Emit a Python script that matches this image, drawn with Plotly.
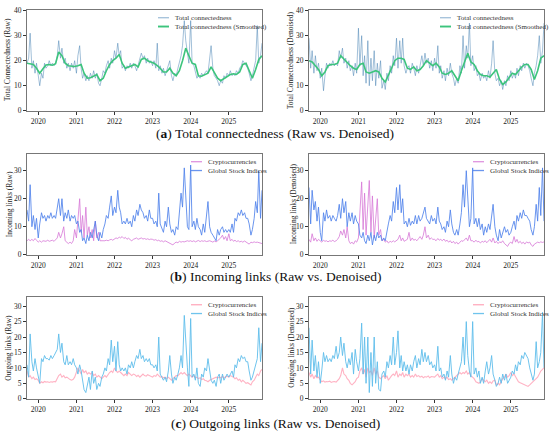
import pandas as pd
import plotly.graph_objects as go
from plotly.subplots import make_subplots

W, H = 550, 440

# ── dates ───────────────────────────────────────────────────────────────────
# raw series: semi-monthly (1st / 15th), Sep 2019 – Nov 2025
DATES = pd.date_range("2019-09-15", "2025-11-30", freq="SMS")
# smoothed series: monthly, mid-month
DATES_M = pd.date_range("2019-09-01", periods=75, freq="MS") + pd.Timedelta(days=14)

# ── (a) total connectedness ─────────────────────────────────────────────────
TC_RAW = (
    [19, 21, 31, 17, 20, 15, 19]
    + [14, 10, 15, 13, 19, 17, 18, 20, 18, 19, 18, 19, 22, 28, 21, 25, 19, 21, 17, 19, 16, 19, 17, 20]
    + [15, 22, 26, 17, 13, 15, 12, 14, 12, 15, 13, 16, 13, 15, 11, 10, 13, 16, 15, 18, 20, 17, 21, 19]
    + [24, 21, 27, 22, 24, 17, 18, 16, 18, 17, 19, 17, 19, 18, 16, 18, 20, 23, 21, 22, 19, 21, 19, 20]
    + [18, 20, 17, 27, 16, 18, 15, 17, 14, 16, 18, 20, 14, 12, 15, 14, 17, 19, 22, 26, 36, 28, 22, 19]
    + [36, 19, 18, 16, 13, 14, 13, 15, 14, 15, 16, 15, 20, 26, 17, 14, 13, 12, 10, 12, 11, 14, 13, 15]
    + [14, 16, 14, 15, 14, 16, 15, 17, 18, 20, 19, 18, 17, 15, 12, 14, 17, 20, 34, 19, 22, 27]
)
TC_SMOOTH = (
    [19, 18.8, 18.5, 17]
    + [15, 16.8, 18.3, 18.5, 18.2, 18.8, 23.5, 22, 19, 18, 17.8, 17.7]
    + [18, 18.5, 15, 13, 13.2, 14, 14.5, 12, 13, 16, 18.5, 20]
    + [21, 22.5, 19, 17, 17.5, 18, 18.5, 17.5, 20.5, 21, 20, 19.5]
    + [19, 18, 17, 15.5, 15.5, 17, 15, 14, 16, 20, 25, 22]
    + [19, 18.5, 14, 13.8, 14.5, 15, 17.5, 15, 13, 12, 12.8, 13.5]
    + [14.5, 14.8, 14.5, 15.5, 18.5, 19, 16, 13, 16.5, 20.5, 22]
)
TC_DN_RAW = (
    [29, 17, 24, 15, 22, 16, 19]
    + [13, 17, 8, 14, 19, 17, 19, 18, 20, 18, 19, 18, 24, 21, 25, 19, 21, 17, 20, 16, 18, 14, 19, 15]
    + [33, 18, 30, 14, 22, 11, 28, 10, 21, 12, 24, 10, 19, 13, 20, 9, 12, 8.5, 15, 12, 18, 15, 22, 18]
    + [29, 17, 28, 19, 29, 18, 15, 17, 18, 15, 19, 17, 14, 18, 15, 18, 22, 18, 23, 19, 21, 17, 20, 16]
    + [21, 17, 26, 15, 18, 13, 16, 12, 17, 14, 19, 15, 13, 10, 13, 11, 18, 15, 30, 17, 26, 21, 35, 18]
    + [22, 16, 18, 14, 15, 12, 15, 13, 14, 12, 16, 13, 19, 28, 15, 12, 13, 10, 12, 8.5, 12, 10, 14, 12]
    + [16, 13, 15, 13, 17, 14, 18, 16, 19, 17, 19, 18, 16, 13, 10, 15, 18, 22, 30, 19, 24, 35]
)
TC_DN_SMOOTH = (
    [20, 19.5, 18, 16.5]
    + [14, 15.5, 18, 18.5, 18.5, 19, 22, 20.5, 19, 18, 17, 16.5]
    + [18.5, 19, 15.5, 15, 15.5, 16, 15.5, 13, 11.5, 14, 17, 20]
    + [21, 21, 20.5, 17, 16.5, 17.5, 16, 16.5, 18, 20, 19, 18]
    + [19, 17.5, 15, 14.5, 15, 16, 14, 12, 16, 19.5, 23, 19.5]
    + [18.5, 16, 14.5, 14, 14, 13.5, 15, 16.5, 12.5, 10.5, 11.5, 13]
    + [15, 14.5, 16, 17.5, 18.5, 18.5, 16.5, 12.5, 16, 21, 22]
)

# ── (b) incoming links ──────────────────────────────────────────────────────
IN_RAW_CRYPTO = (
    [5, 5.5, 5, 5.5, 5, 5.8, 5.2]
    + [4.5, 5, 4.5, 5, 5, 4.8, 5.2, 4.8, 5, 5.2, 4.8, 5.5, 6, 8, 6, 7.5, 10, 5, 4.5, 4, 4.5, 4, 5, 9]
    + [6, 13, 20, 8, 14, 6, 17, 7, 10, 6, 9, 5, 12, 6, 8, 5, 5, 4.8, 5, 5.2, 5, 5.3, 5.5, 5.2]
    + [5.5, 6, 5.8, 6.3, 6, 6.5, 5.8, 6.2, 5.5, 6, 5.3, 5, 5.5, 5.8, 6, 5.5, 5.8, 6, 5.6, 5.8, 5.5, 5.7, 5.4, 5.6]
    + [5.5, 5.2, 5.4, 5, 5.2, 4.8, 5, 4.6, 5, 4.7, 4.5, 4.2, 4, 3.5, 4.2, 4.5, 4.3, 4.8, 4.5, 4.7, 4.6, 4.9, 5, 4.8]
    + [5, 4.7, 5, 4.6, 4.8, 5.1, 4.7, 5, 4.8, 5, 4.7, 4.9, 5, 4.8, 4.5, 4.9, 4.6, 5, 5.5, 6, 7, 5.5, 6.5, 5]
    + [7.5, 5, 5.5, 4.8, 5.2, 4.7, 5, 4.6, 4.8, 4.5, 4.9, 4.6, 4.2, 3.8, 4.5, 4.3, 4.6, 4.4, 4.5, 4.3, 4.2, 4]
)
IN_RAW_GSI = (
    [16, 12, 25, 10, 14, 9, 13]
    + [6, 11, 15, 13, 14, 12, 14, 13, 15, 13, 14, 13, 17, 20, 14, 20, 12, 15, 13, 16, 12, 14, 13, 14]
    + [11, 12, 8, 9, 5, 6, 4, 7, 5, 8, 6, 9, 12, 7, 5, 8, 6, 9, 11, 14, 13, 17, 21, 14]
    + [17, 15, 23, 17, 15, 11, 12, 11, 13, 11, 12, 10, 14, 12, 16, 14, 18, 16, 15, 13, 14, 12, 16, 13]
    + [13, 11, 12, 10, 22, 11, 9, 8, 12, 10, 17, 11, 8, 9, 7, 10, 9, 14, 22, 17, 31, 21, 10, 9]
    + [32, 10, 12, 9, 13, 10, 9, 7, 11, 8, 13, 19, 10, 8, 7, 6, 5, 9, 7, 9, 10, 8, 9, 8]
    + [9, 8, 11, 8, 13, 12, 15, 14, 16, 14, 15, 13, 13, 11, 7, 9, 13, 19, 15, 30, 13, 23]
)
IN_DN_CRYPTO = (
    [5.5, 4.5, 7.5, 5, 6, 4.8, 5.5]
    + [5, 4.5, 5.2, 4.8, 5, 4.6, 5, 4.8, 5.2, 4.7, 5, 5.5, 6.5, 8.5, 7, 9, 6, 10, 5, 4, 4.5, 3.8, 5, 4.5]
    + [6, 14, 26, 9, 22, 7, 16, 26.5, 8, 21, 6, 12, 20, 7, 9, 5, 5.5, 4.5, 5, 4.2, 4.8, 4.5, 5, 4.6]
    + [5, 5.5, 7, 5, 6, 4.8, 5.2, 5.5, 8, 5, 6, 5.2, 5.5, 5, 5.8, 6.5, 5.5, 7, 10, 6, 7, 5.5, 6, 5.5]
    + [5.5, 5, 5.8, 5.2, 5.5, 5, 5.6, 4.8, 5.2, 4.5, 5, 4.2, 4.8, 4, 4.5, 3.8, 4.5, 5, 4.8, 5.5, 6, 5, 7, 5]
    + [5, 4.5, 5.2, 4.6, 4.8, 4.2, 4.8, 4.5, 5, 4.3, 4.8, 5.5, 4.5, 6, 4.2, 4.8, 4, 4.6, 4.3, 5, 4, 3.5, 3, 4]
    + [4.5, 4, 6.5, 4.5, 5.5, 4.2, 4.8, 4, 4.5, 3.8, 4.6, 4.2, 4.5, 3.5, 3, 3.8, 4.2, 4.5, 4.3, 4.6, 4.4, 4.6]
)
IN_DN_GSI = (
    [24, 11, 23, 16, 19, 12, 17]
    + [8, 5, 15, 12, 16, 13, 14, 12, 14, 13, 12, 14, 18, 13, 20, 15, 19, 10, 15, 12, 15, 11, 14, 12]
    + [11, 7, 6, 8, 5, 4, 7, 5, 8, 3.5, 7, 5, 8, 6, 7, 5, 6, 5, 9, 11, 14, 12, 19, 15]
    + [24, 16, 25, 15, 20, 11, 12, 10, 13, 10.5, 12, 11, 14, 11, 14, 12, 13, 15, 17, 13, 12, 11, 14, 12]
    + [13, 11, 17, 12, 11, 9, 10, 8, 12, 10, 16, 11, 8, 7, 9, 7, 11, 15, 25, 17, 30, 20, 10, 13]
    + [31, 11, 13, 10, 13, 9, 11, 7, 10, 8, 11, 9, 13, 18, 10, 7, 5, 9, 6, 8, 10, 8, 9, 7]
    + [8, 10, 12, 9, 14, 12, 15, 13, 16, 14, 14, 13, 12, 9, 7, 10, 18, 12, 24, 14, 31, 12]
)

# ── (c) outgoing links ──────────────────────────────────────────────────────
OUT_RAW_CRYPTO = (
    [9, 7, 7.5, 6.5, 7, 6.2, 6.5]
    + [6, 5, 5.5, 5.2, 5.6, 5.4, 5.5, 5.3, 5.5, 5.4, 5.6, 5.5, 6.5, 7.5, 8, 7, 7.5, 6.8, 7, 6.5, 6.2, 6, 6.3, 7]
    + [9, 10, 9, 8, 9.5, 8.5, 9, 8, 8.5, 8, 8.5, 7.5, 8, 7, 7.5, 7, 6.5, 7, 7.5, 7, 8, 8.5, 9, 8.5]
    + [10, 9, 8.5, 9, 8.5, 8, 7.5, 8, 7.5, 8.5, 8, 7.5, 8, 7.8, 7.2, 7.6, 7, 7.5, 8, 7.5, 7.3, 7.8, 7.5, 7.2]
    + [7, 7.5, 7.3, 8, 7.5, 7, 7.2, 6.8, 7, 6.5, 7, 6.5, 6, 6.5, 7, 7.5, 7.5, 8, 8.5, 8, 8.5, 8, 7.5, 8]
    + [7.5, 7, 7.5, 6.8, 7, 6.5, 6.8, 6.2, 6.5, 6, 5.8, 5.5, 6, 6.2, 6.5, 6.8, 7, 6.7, 7, 6.8, 7.2, 6.8, 7, 7.3]
    + [7, 7.5, 7.2, 7, 6.5, 6.8, 6, 6.3, 5.5, 6, 5.5, 5, 5.2, 4.8, 4.5, 5.5, 6, 7, 8, 7.5, 9, 9.5]
)
OUT_RAW_GSI = (
    [11, 7, 21, 12, 9, 13, 10]
    + [7, 5, 13, 12, 14, 13, 13, 12.5, 14, 13, 14, 15, 16, 21, 15, 18, 12, 11, 14, 11, 12, 11, 13, 11]
    + [10, 8, 11, 9, 5, 3, 2, 4, 7, 3, 9, 5, 7, 3, 5, 4, 7, 8, 10, 9, 13, 11, 19, 12]
    + [17, 9, 18.5, 11, 9, 10, 9, 10, 8, 11, 10, 12, 10, 12, 14, 13, 16, 13, 14, 12, 13, 12, 13, 11]
    + [11, 10, 11, 9, 20, 8, 7, 6, 7, 5.5, 9, 14, 8, 5, 7, 6, 8, 10, 14, 10, 27, 18, 10, 4]
    + [26, 7, 8, 6, 10, 5, 4, 8, 7, 10, 9, 13, 9, 6, 5, 6, 4, 7, 8, 5, 8, 6, 7, 8]
    + [7, 8, 9, 7, 11, 10, 13, 12, 14, 13, 13.5, 12, 12, 9, 6, 7, 9, 11, 13, 23, 12, 18]
)
OUT_DN_CRYPTO = (
    [8.5, 7, 8, 6.5, 7.5, 6.8, 7]
    + [6, 5.5, 5.8, 5.4, 5.6, 5.5, 5.7, 5.3, 5.5, 5.6, 5.4, 6, 6.5, 7.5, 10, 8, 7.5, 6.5, 6, 5, 4.5, 5, 5.5, 6.5]
    + [7, 9, 10, 8, 9.5, 7, 10, 8.5, 9, 7.5, 10, 8, 9, 7, 6.5, 7, 7.5, 6.5, 7.5, 6, 7, 7.5, 8, 7.5]
    + [9, 7, 8, 7.5, 8.5, 7, 8, 7.5, 8, 7, 7.5, 7, 8, 7.2, 7.5, 7, 7.3, 6.8, 7.2, 7, 7.4, 6.8, 7.2, 7]
    + [7, 7.5, 8, 7, 7.5, 6.5, 7, 6.5, 7, 6.2, 6.5, 6, 6.5, 7, 7.5, 8, 8.5, 8, 8.5, 8.2, 9, 8, 8.5, 7.5]
    + [7, 6.5, 5.5, 5.2, 5, 5.5, 6.5, 6, 5.5, 6, 5, 5.5, 5, 5.8, 6, 4.5, 5, 4.5, 5.5, 6.5, 7, 8, 7, 7.5]
    + [8.5, 7.5, 8, 7, 6, 5.5, 5.2, 5, 4.8, 4.5, 4.2, 4, 4.5, 5, 5.5, 6, 6.5, 7, 8, 9, 9.5, 10]
)
OUT_DN_GSI = (
    [23, 8, 19, 9, 14, 7, 12]
    + [5, 9, 15, 12, 14, 12, 13, 12, 14, 13, 17, 13, 15, 20, 14, 18, 12, 10, 13, 11, 15, 8, 16, 12]
    + [9, 13, 24.5, 8, 20, 5, 20, 2, 15, 4, 20, 5, 12, 3, 2.5, 8, 9, 7, 12, 10, 14, 11, 20, 11]
    + [15, 22, 10, 14, 9, 12, 9, 11, 8, 11, 9, 12, 14, 10, 13, 11, 16, 12, 15, 12, 14, 11, 12, 10]
    + [11, 9, 17, 9, 10, 7, 8, 6, 9, 7, 14, 8, 5, 7, 6, 8, 10, 12, 20, 11, 25, 14, 9, 7]
    + [25, 8, 10, 7, 9, 5, 7, 5, 9, 12, 8, 10, 14, 8, 6, 4, 5, 7, 5, 8, 6, 8, 5, 6]
    + [7, 9, 8, 11, 9, 12, 11, 14, 13, 15, 14, 13, 10, 8, 6, 8, 18.5, 10, 12, 15, 28, 10]
)

# ── styling ─────────────────────────────────────────────────────────────────
SERIF = "Liberation Serif, Times New Roman, serif"
C_TC_RAW = "rgba(70,130,180,0.5)"
C_TC_SMOOTH = "#3cc47c"
C_IN_CRYPTO = "rgba(215,120,215,0.8)"
C_IN_GSI = "rgba(80,130,235,0.85)"
C_OUT_CRYPTO = "rgba(255,170,188,0.9)"
C_OUT_GSI = "rgba(95,190,235,0.9)"

# panel boxes in pixels (left, right) / (top, bottom)
X_PX = {1: (27, 262), 2: (309, 544)}
Y_PX = {1: (6, 109), 2: (153, 256), 3: (299, 403)}
X_DOM = {c: [a / W, b / W] for c, (a, b) in X_PX.items()}
Y_DOM = {r: [1 - b / H, 1 - a / H] for r, (a, b) in Y_PX.items()}
Y_RANGE = {1: [0, 40.3], 2: [0, 36], 3: [0, 33]}
Y_DTICK = {1: 10, 2: 10, 3: 5}
LEG_TEXT_OFFSET = {1: 89, 2: 56, 3: 56}   # legend text start, px left of panel edge

fig = make_subplots(rows=3, cols=2)

panels = [
    (1, 1, [(DATES, TC_RAW, "Total connectedness", C_TC_RAW, 1),
            (DATES_M, TC_SMOOTH, "Total connectedness (Smoothed)", C_TC_SMOOTH, 1.6)]),
    (1, 2, [(DATES, TC_DN_RAW, "Total connectedness", C_TC_RAW, 1),
            (DATES_M, TC_DN_SMOOTH, "Total connectedness (Smoothed)", C_TC_SMOOTH, 1.6)]),
    (2, 1, [(DATES, IN_RAW_CRYPTO, "Cryptocurrencies", C_IN_CRYPTO, 1),
            (DATES, IN_RAW_GSI, "Global Stock Indices", C_IN_GSI, 1)]),
    (2, 2, [(DATES, IN_DN_CRYPTO, "Cryptocurrencies", C_IN_CRYPTO, 1),
            (DATES, IN_DN_GSI, "Global Stock Indices", C_IN_GSI, 1)]),
    (3, 1, [(DATES, OUT_RAW_CRYPTO, "Cryptocurrencies", C_OUT_CRYPTO, 1.1),
            (DATES, OUT_RAW_GSI, "Global Stock Indices", C_OUT_GSI, 1)]),
    (3, 2, [(DATES, OUT_DN_CRYPTO, "Cryptocurrencies", C_OUT_CRYPTO, 1.1),
            (DATES, OUT_DN_GSI, "Global Stock Indices", C_OUT_GSI, 1)]),
]

annotations, shapes = [], []
for r, c, series in panels:
    for x, y, name, color, width in series:
        fig.add_trace(go.Scatter(x=x, y=y, mode="lines", name=name,
                                 line=dict(color=color, width=width),
                                 showlegend=False), row=r, col=c)
    fig.update_xaxes(domain=X_DOM[c], range=[DATES[0], DATES[-1]],
                     tick0="2020-01-01", dtick="M12", tickformat="%Y",
                     row=r, col=c)
    fig.update_yaxes(domain=Y_DOM[r], range=Y_RANGE[r], dtick=Y_DTICK[r],
                     row=r, col=c)

    # matplotlib-style compact legend (upper right of each panel)
    tx = X_PX[c][1] - LEG_TEXT_OFFSET[r]
    for i, (_, _, name, color, width) in enumerate(series):
        ty = Y_PX[r][0] + 8 + 9 * i
        shapes.append(dict(type="line", xref="paper", yref="paper",
                           x0=(tx - 15) / W, x1=(tx - 4) / W,
                           y0=1 - ty / H, y1=1 - ty / H,
                           line=dict(color=color, width=width + 0.3)))
        annotations.append(dict(x=tx / W, y=1 - ty / H, xref="paper", yref="paper",
                                text=name, showarrow=False,
                                xanchor="left", yanchor="middle",
                                font=dict(family=SERIF, size=7, color="#333")))

axis_style = dict(showgrid=False, zeroline=False, showline=True, mirror=True,
                  linecolor="#777", linewidth=1.2, ticks="outside", ticklen=3,
                  tickwidth=0.8, tickcolor="#333",
                  tickfont=dict(family=SERIF, size=7.5, color="#222"))
fig.update_xaxes(**axis_style)
fig.update_yaxes(**axis_style)

# y-axis titles
ytitles = [
    (7, 1, "Total Connectedness (Raw)"),
    (290, 1, "Total Connectedness (Denoised)"),
    (9, 2, "Incoming links (Raw)"),
    (293, 2, "Incoming links (Denoised)"),
    (9, 3, "Outgoing links (Raw)"),
    (292, 3, "Outgoing links (Denoised)"),
]
for px, r, text in ytitles:
    annotations.append(dict(x=px / W, y=sum(Y_DOM[r]) / 2, xref="paper", yref="paper",
                            text=text, textangle=-90, showarrow=False,
                            xanchor="center", yanchor="middle",
                            font=dict(family=SERIF, size=7.5, color="#222")))

# panel captions
captions = [
    (132, "(<b>a</b>) Total connectedness (Raw vs. Denoised)"),
    (278, "(<b>b</b>) Incoming links (Raw vs. Denoised)"),
    (428, "(<b>c</b>) Outgoing links (Raw vs. Denoised)"),
]
for py, text in captions:
    annotations.append(dict(x=0.5, y=1 - py / H, xref="paper", yref="paper",
                            text=text, showarrow=False,
                            xanchor="center", yanchor="middle",
                            font=dict(family=SERIF, size=13.5, color="#111")))

fig.update_layout(
    width=W, height=H,
    margin=dict(l=0, r=0, t=0, b=0),
    paper_bgcolor="white", plot_bgcolor="white",
    annotations=annotations, shapes=shapes,
    showlegend=False,
)

# drop the default page margin so the figure sits at the window's top-left
fig.write_html("out.html", config={"displayModeBar": False},
               post_script="document.body.style.margin='0';")
